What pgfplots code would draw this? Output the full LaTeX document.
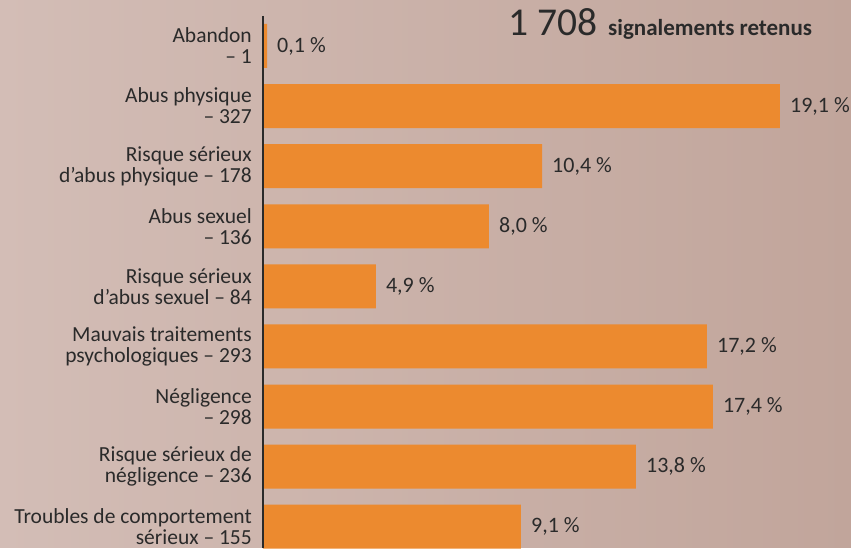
\documentclass[border=0pt]{standalone}
\usepackage{pgfplots}
\pgfplotsset{compat=1.18}
\usepackage{pgfplotstable}
\usepackage{fontspec}
\setmainfont{Carlito}
\definecolor{bgA}{HTML}{D3BDB6}
\definecolor{bgB}{HTML}{C1A59B}
\definecolor{barc}{HTML}{EC8A2F}
\definecolor{txt}{HTML}{2A2A2A}
% val = bar length as drawn in the reference; lab = printed percentage
\pgfplotstableread[col sep=semicolon]{
idx;val;lab
0;0.15;0,1~\%
1;19.10;19,1~\%
2;10.31;10,4~\%
3;8.35;8,0~\%
4;4.17;4,9~\%
5;16.40;17,2~\%
6;16.62;17,4~\%
7;13.78;13,8~\%
8;9.53;9,1~\%
}\datatable
\begin{document}
\begin{tikzpicture}[x=1pt,y=1pt]
\shade[left color=bgA, right color=bgB] (0,0) rectangle (851,548);
\begin{axis}[
  at={(263pt,0pt)}, anchor=south west,
  scale only axis, width=588pt, height=548pt,
  xmin=0, xmax=21.72, ymin=-0.765, ymax=8.353,
  y dir=reverse, clip=false,
  axis line style={draw=none},
  major tick length=0pt,
  xtick=\empty,
  ytick={0,...,8},
  yticklabels={{Abandon\\– 1},{Abus physique\\– 327},{Risque sérieux\\d’abus physique – 178},{Abus sexuel\\– 136},{Risque sérieux\\d’abus sexuel – 84},{Mauvais traitements\\psychologiques – 293},{Négligence\\– 298},{Risque sérieux de\\négligence – 236},{Troubles de comportement\\sérieux – 155}},
  yticklabel style={align=right, font=\fontsize{21.5}{21}\selectfont, text=txt, inner sep=0pt, xshift=-11pt},
  xbar, bar width=44pt,
  point meta=explicit symbolic,
  nodes near coords={\pgfplotspointmeta},
  nodes near coords style={anchor=west, inner sep=0pt, xshift=10pt, font=\fontsize{22}{22}\selectfont, text=txt},
]
\addplot[fill=barc, draw=none] table[x=val, y=idx, meta=lab] {\datatable};
\draw[line width=2.2pt, color=txt] (axis cs:0,-0.5) -- (axis cs:0,8.353);
\end{axis}
\node[anchor=base west, inner sep=0pt, text=txt] at (508,512) {\fontsize{39.5}{39.5}\selectfont 1\hspace{9pt}708\hspace{11pt}\fontsize{23}{23}\selectfont\bfseries signalements retenus};
\end{tikzpicture}
\end{document}
